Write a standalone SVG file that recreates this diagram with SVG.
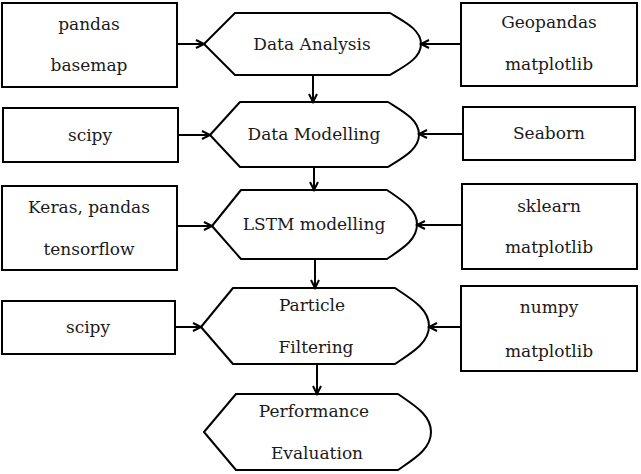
<svg xmlns="http://www.w3.org/2000/svg" width="641" height="474" viewBox="0 0 641 474">
<style>
.box{fill:#fff;stroke:#000;stroke-width:2}
.proc{fill:#fff;stroke:#000;stroke-width:2;stroke-linejoin:round}
.t{font-family:"DejaVu Serif",serif;font-size:17px;fill:#1a1a1a;text-anchor:middle}
.c{stroke:#000;stroke-width:2;fill:none}
</style>
<defs>
<marker id="a" markerUnits="userSpaceOnUse" markerWidth="12" markerHeight="12" refX="9" refY="5" orient="auto">
<path d="M1,1 L9,5 L1,9" fill="none" stroke="#000" stroke-width="2"/>
</marker>
</defs>
<rect width="641" height="474" fill="#fff"/>
<g id="pandas"><rect class="box" x="2" y="3" width="175" height="84"/><text class="t" x="89" y="30">pandas</text><text class="t" x="89" y="71">basemap</text></g>
<g id="geopandas"><rect class="box" x="461" y="3" width="176" height="83"/><text class="t" x="549" y="28">Geopandas</text><text class="t" x="549" y="70">matplotlib</text></g>
<g id="scipy1"><rect class="box" x="3" y="108" width="175" height="54"/><text class="t" x="90" y="141">scipy</text></g>
<g id="seaborn"><rect class="box" x="463" y="107" width="172" height="53"/><text class="t" x="549" y="139">Seaborn</text></g>
<g id="keras"><rect class="box" x="2" y="186" width="175" height="84"/><text class="t" x="89" y="213">Keras, pandas</text><text class="t" x="89" y="255">tensorflow</text></g>
<g id="sklearn"><rect class="box" x="462" y="184" width="175" height="85"/><text class="t" x="549" y="212">sklearn</text><text class="t" x="549" y="253">matplotlib</text></g>
<g id="scipy2"><rect class="box" x="2" y="301" width="173" height="53"/><text class="t" x="88" y="333">scipy</text></g>
<g id="numpy"><rect class="box" x="461" y="286" width="176" height="85"/><text class="t" x="549" y="313">numpy</text><text class="t" x="549" y="357">matplotlib</text></g>

<g id="analysis"><path class="proc" d="M204,44 L235,13 L390,13 C405.5,22.3 421,30 421,44 C421,58 405.5,65.7 390,75 L235,75 Z"/><text class="t" x="312" y="50">Data Analysis</text></g>
<g id="modelling"><path class="proc" d="M210,135 L240,102 L388,102 C403.5,111.75 419,119.9 419,134.5 C419,149.1 403.5,157.25 388,167 L240,167 Z"/><text class="t" x="314" y="140">Data Modelling</text></g>
<g id="lstm"><path class="proc" d="M212,226 L241,190 L387,190 C402,200.35 417,209 417,224.5 C417,240 402,248.65 387,259 L241,259 Z"/><text class="t" x="314" y="230">LSTM modelling</text></g>
<g id="particle"><path class="proc" d="M201,327 L233,288 L395,288 C412,299.4 429,309 429,326 C429,343 412,352.6 395,364 L233,364 Z"/><text class="t" x="312" y="311">Particle</text><text class="t" x="316" y="353">Filtering</text></g>
<g id="performance"><path class="proc" d="M204,432 L236,394 L398,394 C414.5,405.4 431,415 431,432 C431,449 414.5,458.6 398,470 L236,470 Z"/><text class="t" x="314" y="417">Performance</text><text class="t" x="317" y="459">Evaluation</text></g>

<g id="connectors">
<line class="c" x1="177" y1="44" x2="204" y2="44" marker-end="url(#a)"/>
<line class="c" x1="461" y1="44" x2="421" y2="44" marker-end="url(#a)"/>
<line class="c" x1="178" y1="135" x2="210" y2="135" marker-end="url(#a)"/>
<line class="c" x1="463" y1="134" x2="419" y2="134" marker-end="url(#a)"/>
<line class="c" x1="177" y1="226" x2="212" y2="226" marker-end="url(#a)"/>
<line class="c" x1="462" y1="225" x2="417" y2="225" marker-end="url(#a)"/>
<line class="c" x1="175" y1="327" x2="201" y2="327" marker-end="url(#a)"/>
<line class="c" x1="461" y1="327" x2="429" y2="327" marker-end="url(#a)"/>
<line class="c" x1="313" y1="75" x2="313" y2="102" marker-end="url(#a)"/>
<line class="c" x1="314" y1="167" x2="314" y2="190" marker-end="url(#a)"/>
<line class="c" x1="315" y1="259" x2="315" y2="288" marker-end="url(#a)"/>
<line class="c" x1="317" y1="364" x2="317" y2="394" marker-end="url(#a)"/>
</g>
</svg>
